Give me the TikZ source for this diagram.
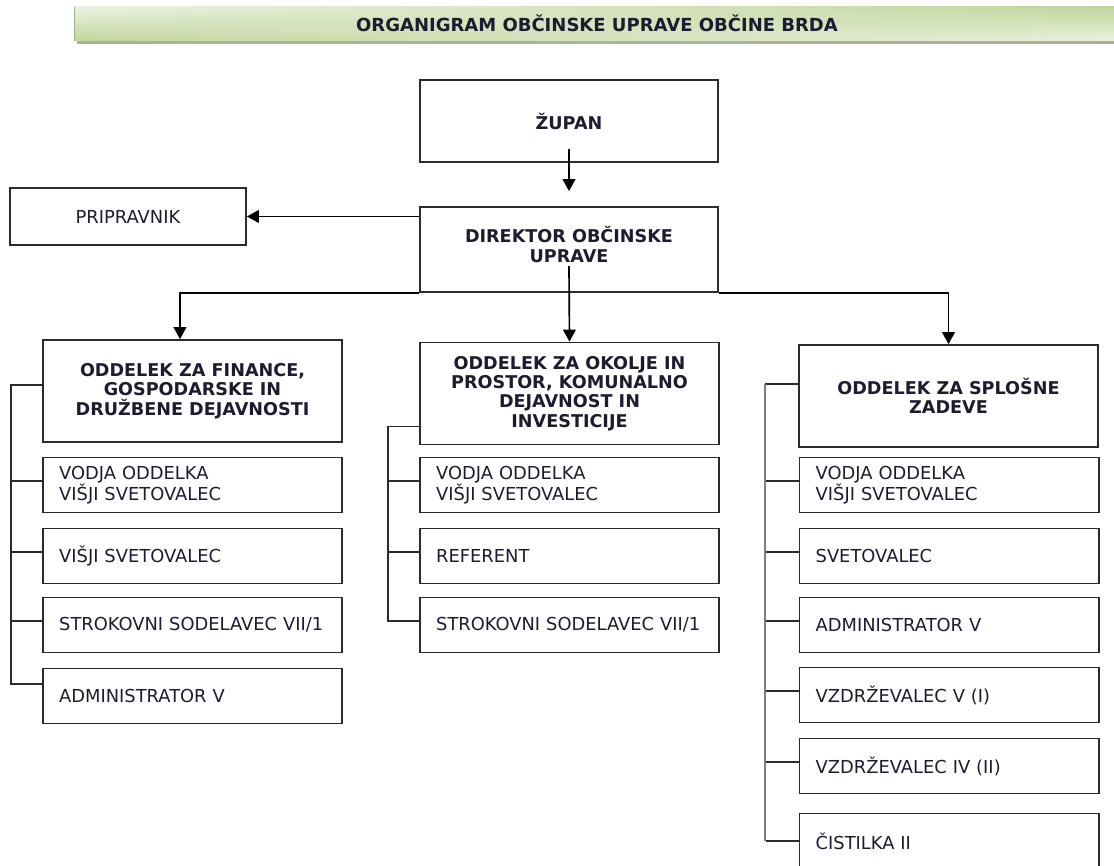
\documentclass[tikz,border=0pt]{standalone}
\usepackage{fontspec}
\setmainfont{DejaVu Sans}
\usetikzlibrary{arrows.meta}

\definecolor{txt}{HTML}{1C1C30}
\definecolor{frame}{HTML}{2B2B2B}
\definecolor{barlight}{HTML}{E9F0DE}
\definecolor{bargreen}{HTML}{C2D69D}
\definecolor{barshadow}{HTML}{A8B497}

\tikzset{
  box/.style={draw=frame, line width=1.25pt, fill=white, text=txt, inner sep=0pt},
  headbox/.style={box, minimum width=224.25pt, minimum height=76.5pt, align=center,
    font=\bfseries\fontsize{13.2pt}{14.5pt}\selectfont},
  subbox/.style={box, text width=200pt, inner xsep=12.25pt, minimum height=41.25pt, align=left,
    font=\fontsize{13.4pt}{14.5pt}\selectfont},
  arr/.style={draw=black, line width=1.25pt, -{Triangle[width=9.5pt,length=9pt]}},
  rail/.style={draw=frame, line width=1.2pt},
  railgray/.style={draw=gray, line width=1.8pt}
}

\begin{document}
\begin{tikzpicture}[x=0.75pt, y=-0.75pt]
        \useasboundingbox (0,0) rectangle (1114,866);

        % title bar
        \fill[barshadow] (77,10) rectangle (1114,44);
        \foreach \i in {0,...,51} {
          \pgfmathtruncatemacro{\p}{100*\i/51}
          \shade[top color=bargreen!\p!barlight, bottom color=barlight!\p!bargreen]
            (74+20*\i,7) rectangle (74+20*\i+20.6,41);
        }
        \draw[bargreen!85!black, line width=0.75pt] (74.5,7) -- (74.5,41);
        \node[text=txt, font=\bfseries\fontsize{13.5pt}{15pt}\selectfont] (title) at (597,23.5)
          {ORGANIGRAM OBČINSKE UPRAVE OBČINE BRDA};

        \node[headbox, minimum width=223.5pt, minimum height=61.5pt] (zupan) at (569,121) {ŽUPAN};
        \node[headbox, minimum width=223.5pt, minimum height=63.75pt, text depth=7.5pt] (direktor)
          at (569,249.5) {DIREKTOR OBČINSKE\\UPRAVE};
        \node[box, minimum width=177pt, minimum height=42.75pt,
          font=\fontsize{13.4pt}{15pt}\selectfont] (pripravnik) at (128,216.5) {PRIPRAVNIK};

        \node[headbox] (fin) at (192.5,391) {ODDELEK ZA FINANCE,\\GOSPODARSKE IN\\DRUŽBENE DEJAVNOSTI};
        \node[headbox] (oko) at (569.5,393.5) {ODDELEK ZA OKOLJE IN\\PROSTOR, KOMUNALNO\\DEJAVNOST IN\\INVESTICIJE};
        \node[headbox] (spl) at (948.5,396) {ODDELEK ZA SPLOŠNE\\ZADEVE};

        \node[subbox] (fin1) at (192.5,485) {VODJA ODDELKA\\VIŠJI SVETOVALEC};
        \node[subbox] (fin2) at (192.5,556) {VIŠJI SVETOVALEC};
        \node[subbox] (fin3) at (192.5,625) {STROKOVNI SODELAVEC VII/1};
        \node[subbox] (fin4) at (192.5,696) {ADMINISTRATOR V};

        \node[subbox] (oko1) at (569.5,485) {VODJA ODDELKA\\VIŠJI SVETOVALEC};
        \node[subbox] (oko2) at (569.5,556) {REFERENT};
        \node[subbox] (oko3) at (569.5,625) {STROKOVNI SODELAVEC VII/1};

        \node[subbox] (spl1) at (949,485) {VODJA ODDELKA\\VIŠJI SVETOVALEC};
        \node[subbox] (spl2) at (949,556) {SVETOVALEC};
        \node[subbox] (spl3) at (949,625) {ADMINISTRATOR V};
        \node[subbox] (spl4) at (949,695) {VZDRŽEVALEC V (I)};
        \node[subbox] (spl5) at (949,766) {VZDRŽEVALEC IV (II)};
        \node[subbox] (spl6) at (949,841) {ČISTILKA II};

        % arrows
        \draw[arr] ([yshift=10.5pt]zupan.south) -- ([yshift=11.25pt]direktor.north);
        \draw[arr] (direktor.west |- pripravnik.east) -- (pripravnik.east);
        \draw[arr] (direktor.south west) -| ([xshift=-9.4pt]fin.north);
        \draw[arr] (direktor.south east) -| (spl.north);
        \draw[arr] ([yshift=20pt]direktor.south) -- (oko.north);

        % rails
        \draw[rail] ([yshift=4.5pt]fin.west) -- ++(-31,0) |- ([yshift=9pt]fin4.west);
        \foreach \b in {fin1,fin2,fin3}
          \draw[rail] ([yshift=3pt]\b.west) -- ++(-31,0);

        \draw[rail] ([yshift=-24.75pt]oko.west) -- ++(-31,0) |- ([yshift=3pt]oko3.west);
        \foreach \b in {oko1,oko2}
          \draw[rail] ([yshift=3pt]\b.west) -- ++(-31,0);

        \draw[rail] ([yshift=9pt]spl.west) -- ++(-33,0) coordinate (splrail);
        \draw[railgray] (splrail) -- (splrail |- spl6.west);
        \foreach \b in {spl1,spl2,spl3,spl4,spl5}
          \draw[rail] ([yshift=3pt]\b.west) -- ++(-33,0);
        \draw[rail] (spl6.west) -- ++(-33,0);
    \end{tikzpicture}
\end{document}
